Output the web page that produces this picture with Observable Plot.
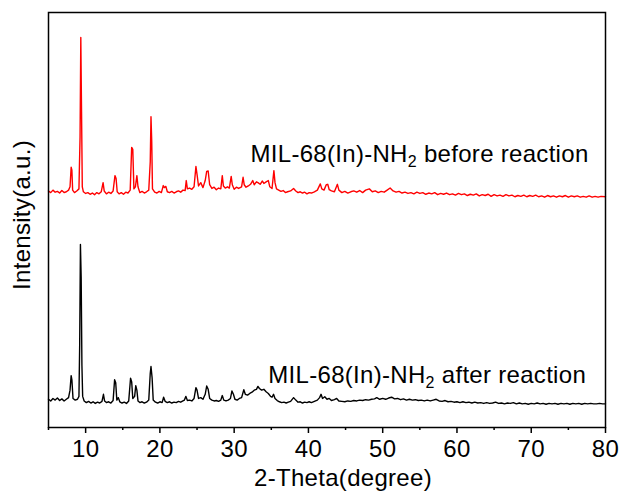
<!DOCTYPE html>
<html><head><meta charset="utf-8">
<script src="https://cdn.jsdelivr.net/npm/d3@7"></script>
<script src="https://cdn.jsdelivr.net/npm/@observablehq/plot@0.6"></script>
<style>body{margin:0;background:#fff} svg text{letter-spacing:0.3px}</style>
</head><body><div id="chart"></div>
<script>
// [2-Theta (degree), intensity (a.u.)]
const beforeReaction = [
[5.0,570],[5.3,566],[5.6,572],[5.9,567],[6.2,569],[6.5,565],[6.8,571],[7.1,566],[7.4,568],[7.7,572],
[7.9,580],[8.05,627],[8.15,620],[8.25,572],[8.5,566],[8.8,570],[9.1,575],[9.25,700],[9.35,940],[9.45,760],
[9.55,580],[9.7,568],[10.0,564],[10.3,566],[10.6,562],[10.9,565],[11.2,561],[11.5,566],[11.8,563],[12.1,568],
[12.35,590],[12.5,570],[12.8,563],[13.1,567],[13.4,564],[13.7,570],[13.95,607],[14.1,600],[14.25,568],[14.5,563],
[14.8,566],[15.1,562],[15.4,567],[15.7,565],[16.0,572],[16.2,675],[16.35,670],[16.5,575],[16.7,580],[16.9,607],
[17.05,580],[17.3,566],[17.6,569],[17.9,565],[18.2,568],[18.5,572],[18.7,640],[18.8,749],[18.9,690],[19.0,575],
[19.3,567],[19.6,565],[19.9,569],[20.2,566],[20.45,583],[20.6,578],[20.8,581],[21.0,568],[21.3,566],[21.6,569],
[21.9,565],[22.2,568],[22.5,570],[22.8,567],[23.1,572],[23.4,571],[23.55,595],[23.7,575],[24.0,577],[24.3,574],
[24.6,580],[24.85,629],[25.0,610],[25.2,582],[25.5,590],[25.8,578],[26.1,595],[26.3,617],[26.5,618],[26.7,585],
[27.0,576],[27.3,579],[27.6,573],[27.9,577],[28.2,575],[28.4,607],[28.55,582],[28.8,577],[29.1,580],[29.35,577],
[29.6,605],[29.75,585],[30.0,574],[30.3,579],[30.6,576],[31.0,580],[31.2,603],[31.35,585],[31.6,579],[31.9,582],
[32.2,586],[32.5,595],[32.7,585],[33.0,592],[33.2,590],[33.5,586],[33.8,594],[34.0,588],[34.3,592],[34.6,595],
[34.8,580],[35.1,576],[35.35,619],[35.5,590],[35.7,575],[36.0,572],[36.3,569],[36.6,571],[36.9,566],[37.2,568],
[37.6,570],[38.0,576],[38.3,570],[38.6,566],[38.9,568],[39.2,565],[39.5,567],[39.8,563],[40.1,566],[40.4,565],
[40.8,568],[41.2,572],[41.6,587],[41.8,575],[42.1,572],[42.4,585],[42.6,586],[42.8,573],[43.1,570],[43.5,568],
[43.9,586],[44.1,572],[44.5,566],[44.9,569],[45.3,565],[45.7,568],[46.1,570],[46.5,567],[46.9,571],[47.3,566],
[47.7,572],[48.2,575],[48.6,568],[49.0,570],[49.4,566],[49.8,569],[50.2,567],[50.6,572],[51.0,577],[51.4,570],
[51.8,567],[52.2,569],[52.6,565],[53.0,567],[53.4,564],[53.8,566],[54.2,563],[54.6,567],[55.0,564],[55.4,566],
[55.8,562],[56.2,565],[56.6,563],[57.0,566],[57.4,561],[57.8,564],[58.2,562],[58.6,565],[59.0,561],[59.4,563],
[59.8,560],[60.2,564],[60.6,561],[61.0,563],[61.4,559],[61.8,562],[62.2,560],[62.6,563],[63.0,558],[63.4,561],
[63.8,559],[64.2,562],[64.6,557],[65.0,561],[65.4,558],[65.8,560],[66.2,557],[66.6,561],[67.0,558],[67.4,560],
[67.8,556],[68.2,559],[68.6,557],[69.0,560],[69.4,556],[69.8,559],[70.2,557],[70.6,560],[71.0,556],[71.4,558],
[71.8,555],[72.2,559],[72.6,556],[73.0,558],[73.4,555],[73.8,558],[74.2,556],[74.6,559],[75.0,555],[75.4,558],
[75.8,556],[76.2,558],[76.6,555],[77.0,557],[77.4,555],[77.8,558],[78.2,555],[78.6,557],[79.0,555],[79.4,557],
[80.0,556]
];
const afterReaction = [
[5.0,68],[5.3,64],[5.6,70],[5.9,66],[6.2,71],[6.5,65],[6.8,69],[7.1,64],[7.4,68],[7.7,72],
[7.9,90],[8.05,125],[8.15,115],[8.3,70],[8.6,66],[8.9,68],[9.1,75],[9.2,200],[9.3,441],[9.4,360],
[9.5,150],[9.6,75],[9.8,64],[10.1,60],[10.4,63],[10.7,59],[11.0,62],[11.3,58],[11.6,61],[11.9,59],
[12.2,63],[12.4,80],[12.55,64],[12.8,60],[13.1,62],[13.4,59],[13.7,65],[13.9,115],[14.05,108],[14.2,66],
[14.4,72],[14.6,62],[14.9,59],[15.2,61],[15.5,58],[15.8,64],[16.05,119],[16.2,110],[16.35,70],[16.6,75],
[16.75,101],[16.9,90],[17.05,64],[17.3,60],[17.6,62],[17.9,59],[18.2,61],[18.5,66],[18.7,130],[18.8,147],
[18.95,120],[19.1,66],[19.4,61],[19.7,59],[20.0,62],[20.3,60],[20.5,73],[20.7,63],[21.0,60],[21.3,62],
[21.6,59],[21.9,61],[22.2,60],[22.5,63],[22.8,61],[23.1,64],[23.3,66],[23.5,75],[23.7,65],[24.0,66],
[24.3,64],[24.6,70],[24.85,96],[25.0,90],[25.2,70],[25.5,72],[25.8,68],[26.1,80],[26.3,100],[26.5,92],
[26.7,70],[27.0,66],[27.3,64],[27.6,65],[27.9,63],[28.2,66],[28.4,77],[28.6,66],[28.9,64],[29.2,66],
[29.5,70],[29.7,88],[29.9,80],[30.1,68],[30.4,66],[30.7,70],[31.0,72],[31.3,91],[31.5,80],[31.8,78],
[32.1,82],[32.4,85],[32.7,90],[33.0,92],[33.2,99],[33.4,94],[33.7,90],[34.0,92],[34.3,86],[34.6,82],
[34.9,75],[35.1,73],[35.3,80],[35.5,70],[35.8,65],[36.1,62],[36.4,60],[36.7,61],[37.0,59],[37.3,61],
[37.6,63],[38.0,72],[38.3,66],[38.6,61],[38.9,62],[39.2,59],[39.5,61],[39.8,60],[40.1,62],[40.4,60],
[40.8,63],[41.2,66],[41.5,72],[41.7,80],[41.9,70],[42.2,74],[42.5,68],[42.8,70],[43.1,65],[43.5,67],
[43.8,70],[44.1,64],[44.5,63],[44.9,62],[45.3,64],[45.7,63],[46.1,65],[46.5,64],[46.9,66],[47.3,65],
[47.7,67],[48.1,66],[48.5,68],[48.9,69],[49.2,72],[49.6,68],[50.0,70],[50.4,68],[50.8,71],[51.2,73],
[51.6,69],[52.0,70],[52.4,67],[52.8,69],[53.2,66],[53.6,68],[54.0,66],[54.4,67],[54.8,65],[55.2,66],
[55.6,64],[56.0,66],[56.4,64],[56.8,66],[57.2,68],[57.6,64],[58.0,63],[58.4,65],[58.8,62],[59.2,63],
[59.6,61],[60.0,62],[60.4,60],[60.8,62],[61.2,60],[61.6,61],[62.0,59],[62.4,61],[62.8,59],[63.2,60],
[63.6,58],[64.0,60],[64.4,58],[64.8,59],[65.2,61],[65.6,58],[66.0,59],[66.4,57],[66.8,59],[67.2,58],
[67.6,60],[68.0,57],[68.4,59],[68.8,57],[69.2,58],[69.6,56],[70.0,58],[70.4,57],[70.8,59],[71.2,57],
[71.6,58],[72.0,56],[72.4,58],[72.8,57],[73.2,58],[73.6,56],[74.0,58],[74.4,57],[74.8,58],[75.2,56],
[75.6,58],[76.0,57],[76.4,58],[76.8,56],[77.2,58],[77.6,57],[78.0,58],[78.4,57],[78.8,57],[79.2,58],
[79.6,57],[80.0,57]
];
const majorTicks = [10, 20, 30, 40, 50, 60, 70, 80];
const minorTicks = [5, 15, 25, 35, 45, 55, 65, 75];
const labelText = ["MIL-68(In)-NH2 before reaction", "MIL-68(In)-NH2 after reaction"];
const labelTheta = [32.2, 34.6];
const labelIntensity = [640, 108];
const xTitle = "2-Theta(degree)";
const yTitle = "Intensity(a.u.)";

const labels = labelText.map((t, i) => ({t, x: labelTheta[i], y: labelIntensity[i]}));
const FONT = '"Liberation Sans", Arial, Helvetica, sans-serif';

const chart = Plot.plot({
  width: 625, height: 493,
  marginLeft: 48, marginRight: 20, marginTop: 12, marginBottom: 66,
  style: {fontFamily: FONT, fontSize: "24px", background: "#fff", color: "#000", overflow: "visible"},
  x: {domain: [5, 80]},
  y: {domain: [0, 1000], axis: null},
  marks: [
    Plot.line(afterReaction, {x: d => d[0], y: d => d[1], stroke: "#000", strokeWidth: 1.4}),
    Plot.line(beforeReaction, {x: d => d[0], y: d => d[1], stroke: "#f00", strokeWidth: 1.4}),
    Plot.axisX({ticks: minorTicks, tickSize: 3, text: null, label: null, strokeWidth: 1.5}),
    Plot.axisX({ticks: majorTicks, tickSize: 6, tickPadding: 6, label: null, strokeWidth: 1.5, fontSize: 24}),
    Plot.frame({stroke: "#000", strokeWidth: 1.5}),
    Plot.text(labels, {x: "x", y: "y", text: "t", textAnchor: "start", lineAnchor: "bottom", fill: "#000", fontSize: 24}),
    Plot.text([yTitle], {frameAnchor: "left", textAnchor: "middle", rotate: -90, dx: -26, dy: -5, fill: "#000", fontSize: 24}),
    Plot.text([xTitle], {frameAnchor: "bottom", textAnchor: "middle", dx: 16, dy: 58, fill: "#000", fontSize: 24})
  ]
});

const ns = "http://www.w3.org/2000/svg";
chart.querySelectorAll("text").forEach(t => {
  const s = t.textContent;
  const i = s.indexOf("NH2");
  if (i < 0) return;
  t.textContent = "";
  const a = document.createElementNS(ns, "tspan"); a.textContent = s.slice(0, i + 2);
  const b = document.createElementNS(ns, "tspan"); b.textContent = "2";
  b.setAttribute("font-size", "16"); b.setAttribute("dy", "5");
  const c = document.createElementNS(ns, "tspan"); c.textContent = s.slice(i + 3);
  c.setAttribute("dy", "-5");
  t.append(a, b, c);
});
document.getElementById("chart").append(chart);
</script>
</body></html>
